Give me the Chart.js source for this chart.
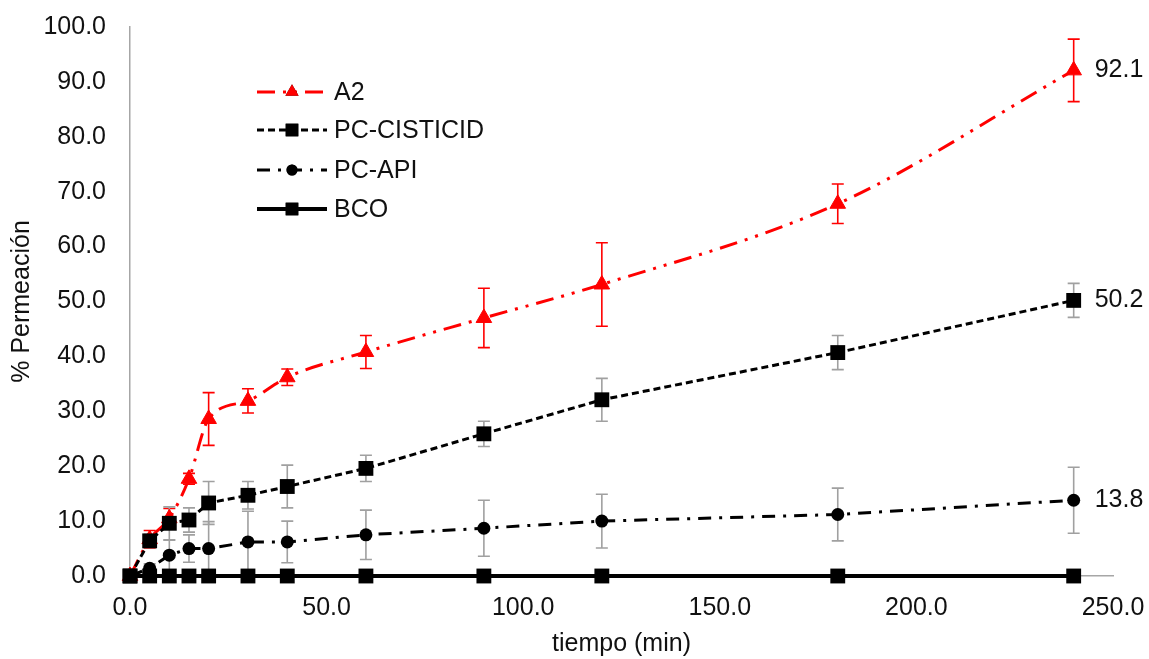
<!DOCTYPE html>
<html>
<head>
<meta charset="utf-8">
<script src="https://cdn.jsdelivr.net/npm/chart.js@4.4.1/dist/chart.umd.min.js"></script>
<style>
  html, body { margin: 0; padding: 0; background: #fff; }
  #wrap { width: 1149px; height: 659px; }
</style>
</head>
<body>
<div id="wrap"><canvas id="c" width="1149" height="659"></canvas></div>
<script>
// ---- data ----
const time = [0, 5, 10, 15, 20, 30, 40, 60, 90, 120, 180, 240];
const a2 = [0, 6.7, 10.5, 17.7, 28.6, 31.9, 36.2, 40.8, 47.0, 53.1, 67.8, 92.1];
const a2Err = [0, 1.6, 1.8, 1.0, 4.8, 2.2, 1.5, 3.0, 5.4, 7.6, 3.6, 5.7];
const pcCisticid = [0, 6.4, 9.6, 10.2, 13.3, 14.7, 16.3, 19.6, 25.9, 32.1, 40.7, 50.2];
const pcCisticidErr = [0, 1.2, 3.0, 2.2, 3.9, 2.5, 3.9, 2.4, 2.3, 3.9, 3.1, 3.1];
const pcApi = [0, 1.4, 3.8, 5.0, 5.0, 6.2, 6.2, 7.5, 8.7, 10.0, 11.2, 13.8];
const pcApiErr = [0, 0.8, 2.7, 2.5, 4.9, 5.6, 3.8, 4.5, 5.1, 4.9, 4.8, 6.0];
const bco = [0, 0, 0, 0, 0, 0, 0, 0, 0, 0, 0, 0];
const seriesNames = ["A2", "PC-CISTICID", "PC-API", "BCO"];
const endLabels = ["92.1", "50.2", "13.8"];
const xTicks = [0, 50, 100, 150, 200, 250];
const yTicks = [0, 10, 20, 30, 40, 50, 60, 70, 80, 90, 100];

const FONT = "'Liberation Sans', Arial, sans-serif";
Chart.defaults.font.family = FONT;
Chart.defaults.font.size = 25;
Chart.defaults.color = "#111";

const pts = (ys) => time.map((t, i) => ({ x: t, y: ys[i] }));

const datasets = [
  {
    label: seriesNames[0], data: pts(a2), err: a2Err, errColor: "#ff0000",
    borderColor: "#ff0000", backgroundColor: "#ff0000", borderWidth: 3,
    borderDash: [18, 8, 3, 8, 3, 8], cubicInterpolationMode: "monotone",
    pointStyle: "triangle", pointRadius: 9, pointBorderWidth: 1, order: 4, endLabel: endLabels[0]
  },
  {
    label: seriesNames[1], data: pts(pcCisticid), err: pcCisticidErr, errColor: "#a0a0a0",
    borderColor: "#000", backgroundColor: "#000", borderWidth: 3,
    borderDash: [7, 4], pointStyle: "rect", pointRadius: 10.5, pointBorderWidth: 0, order: 3, endLabel: endLabels[1]
  },
  {
    label: seriesNames[2], data: pts(pcApi), err: pcApiErr, errColor: "#a0a0a0",
    borderColor: "#000", backgroundColor: "#000", borderWidth: 3,
    borderDash: [13, 8, 3, 8], pointStyle: "circle", pointRadius: 6.5, pointBorderWidth: 0, order: 2, endLabel: endLabels[2]
  },
  {
    label: seriesNames[3], data: pts(bco), err: null,
    borderColor: "#000", backgroundColor: "#000", borderWidth: 4,
    borderDash: [], pointStyle: "rect", pointRadius: 10.5, pointBorderWidth: 0, order: 1
  }
];

const errorBars = {
  id: "errorBars",
  beforeDatasetsDraw(chart) {
    const { ctx, scales: { x, y } } = chart;
    ctx.save();
    chart.data.datasets.forEach((ds) => {
      if (!ds.err) return;
      ctx.strokeStyle = ds.errColor;
      ctx.lineWidth = 1.6;
      ctx.setLineDash([]);
      ds.data.forEach((p, i) => {
        const e = ds.err[i];
        if (!e) return;
        const px = x.getPixelForValue(p.x);
        const y1 = y.getPixelForValue(p.y + e);
        const y2 = y.getPixelForValue(p.y - e);
        ctx.beginPath();
        ctx.moveTo(px, y1); ctx.lineTo(px, y2);
        ctx.moveTo(px - 6, y1); ctx.lineTo(px + 6, y1);
        ctx.moveTo(px - 6, y2); ctx.lineTo(px + 6, y2);
        ctx.stroke();
      });
    });
    ctx.restore();
  }
};

const extras = {
  id: "extras",
  afterDraw(chart) {
    const { ctx, scales: { x, y } } = chart;
    ctx.save();
    // end labels
    ctx.font = "25px " + FONT;
    ctx.fillStyle = "#111";
    ctx.textAlign = "left";
    ctx.textBaseline = "middle";
    chart.data.datasets.forEach((ds) => {
      if (!ds.endLabel) return;
      const p = ds.data[ds.data.length - 1];
      ctx.fillText(ds.endLabel, x.getPixelForValue(p.x) + 21, y.getPixelForValue(p.y));
    });
    // legend
    const rows = [92, 130, 170, 209];
    const x0 = 257, x1 = 327, xm = 292, xt = 334;
    chart.data.datasets.forEach((ds, i) => {
      const ry = rows[i];
      ctx.strokeStyle = ds.borderColor;
      ctx.lineWidth = ds.borderWidth;
      ctx.setLineDash(ds.borderDash || []);
      ctx.beginPath();
      ctx.moveTo(x0, ry); ctx.lineTo(x1, ry);
      ctx.stroke();
      ctx.setLineDash([]);
      Chart.helpers.drawPoint(ctx, {
        pointStyle: ds.pointStyle, radius: ds.pointRadius * 0.85, rotation: 0, borderWidth: 0
      }, xm, ry);
      ctx.fillStyle = ds.backgroundColor;
      ctx.fill();
      ctx.fillStyle = "#111";
      ctx.fillText(ds.label, xt, ry + 1);
    });
    ctx.restore();
  }
};

new Chart(document.getElementById("c"), {
  type: "line",
  data: { datasets },
  options: {
    responsive: false,
    animation: false,
    clip: false,
    layout: { padding: { top: 27, right: 36, left: 0, bottom: 0 } },
    plugins: { legend: { display: false }, tooltip: { enabled: false } },
    elements: { line: { tension: 0 } },
    scales: {
      x: {
        type: "linear", min: 0, max: 250,
        afterBuildTicks: (s) => { s.ticks = xTicks.map(v => ({ value: v })); },
        afterFit: (s) => { s.height = 83; s.paddingLeft = 0; s.paddingRight = 0; },
        grid: { display: false, drawTicks: false },
        border: { display: true, color: "#a6a6a6", width: 1.5 },
        ticks: { padding: 17, callback: (v) => Number(v).toFixed(1), font: { size: 25 } },
        title: { display: true, text: "tiempo (min)", padding: { top: 1, bottom: 0 }, font: { size: 25 } }
      },
      y: {
        type: "linear", min: 0, max: 100,
        afterBuildTicks: (s) => { s.ticks = yTicks.map(v => ({ value: v })); },
        afterFit: (s) => { s.width = 130; s.paddingTop = 0; s.paddingBottom = 0; },
        grid: { display: false, drawTicks: false },
        border: { display: true, color: "#a6a6a6", width: 1.5 },
        ticks: { padding: 24, callback: (v) => Number(v).toFixed(1), font: { size: 25 } },
        title: { display: true, text: "% Permeación", padding: { top: 7, bottom: 0 }, font: { size: 25 } }
      }
    }
  },
  plugins: [errorBars, extras]
});
</script>
</body>
</html>
